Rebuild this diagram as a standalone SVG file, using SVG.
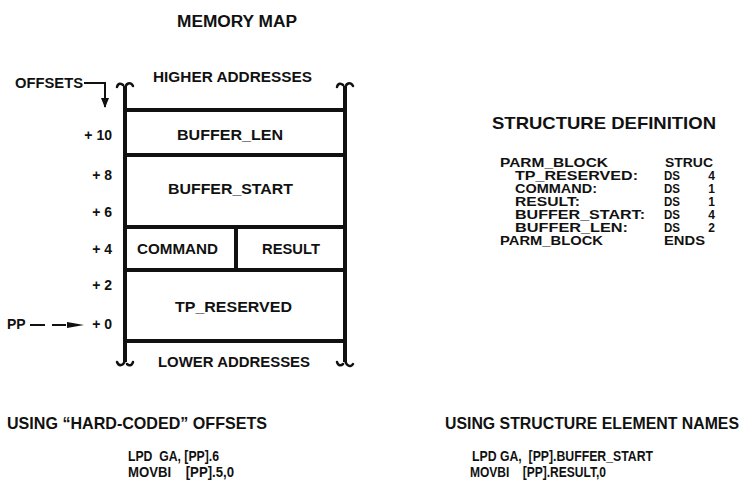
<svg xmlns="http://www.w3.org/2000/svg" width="751" height="483" viewBox="0 0 751 483">
<style>
text{font-family:"Liberation Sans",Arial,Helvetica,sans-serif;font-weight:bold;fill:#111}
.t{font-size:16px}
.m{font-size:14px}
.o{font-size:14px}
.s{font-size:12px}
.h{font-size:17px}
.hr{font-size:15.8px}
.c{font-size:14px}
.ln{stroke:#111;stroke-width:4;fill:none}
.cu{stroke:#111;stroke-width:2.5;fill:none;stroke-linecap:round}
.ar{stroke:#111;stroke-width:2;fill:none}
</style>
<defs>
<marker id="ah" markerWidth="10" markerHeight="8" refX="9" refY="4" orient="auto" markerUnits="userSpaceOnUse">
<path d="M0,0 L10,4 L0,8 Z" fill="#111"/>
</marker>
</defs>

<text class="t" x="177" y="27" textLength="120" lengthAdjust="spacingAndGlyphs">MEMORY MAP</text>

<g id="memory-map">
<line class="ln" x1="125" y1="86" x2="125" y2="362"/>
<line class="ln" x1="345" y1="86" x2="345" y2="362"/>
<path class="cu" d="M125,90 C125,83 131,81 133,86 M117,87 C118,83 121,83 123,85"/>
<path class="cu" d="M345,90 C345,83 351,81 353,86 M337,87 C338,83 341,83 343,85"/>
<path class="cu" d="M125,358 C125,366 119,367 117,362 M133,362 C132,366 129,366 127,364"/>
<path class="cu" d="M345,358 C345,366 351,368 353,364 M337,362 C338,366 341,366 343,364"/>
<line class="ln" x1="125" y1="110" x2="345" y2="110"/>
<line class="ln" x1="125" y1="155" x2="345" y2="155"/>
<line class="ln" x1="125" y1="227" x2="345" y2="227"/>
<line class="ln" x1="125" y1="270" x2="345" y2="270"/>
<line class="ln" x1="125" y1="341" x2="345" y2="341"/>
<line class="ln" x1="236" y1="227" x2="236" y2="270"/>
<text class="m" x="153" y="82" textLength="159" lengthAdjust="spacingAndGlyphs">HIGHER ADDRESSES</text>
<text class="m" x="158" y="367" textLength="152" lengthAdjust="spacingAndGlyphs">LOWER ADDRESSES</text>
</g>

<g id="buffer-len"><text class="m" x="177" y="140" textLength="106" lengthAdjust="spacingAndGlyphs">BUFFER_LEN</text></g>
<g id="buffer-start"><text class="m" x="168" y="194" textLength="125" lengthAdjust="spacingAndGlyphs">BUFFER_START</text></g>
<g id="command"><text class="m" x="137" y="254" textLength="81" lengthAdjust="spacingAndGlyphs">COMMAND</text></g>
<g id="result"><text class="m" x="262" y="254" textLength="58" lengthAdjust="spacingAndGlyphs">RESULT</text></g>
<g id="tp-reserved"><text class="m" x="175" y="312" textLength="117" lengthAdjust="spacingAndGlyphs">TP_RESERVED</text></g>

<g id="offsets">
<text class="o" x="15" y="88" textLength="68" lengthAdjust="spacingAndGlyphs">OFFSETS</text>
<text class="o" x="112" y="140" text-anchor="end">+ 10</text>
<text class="o" x="112" y="180" text-anchor="end">+ 8</text>
<text class="o" x="112" y="217" text-anchor="end">+ 6</text>
<text class="o" x="112" y="254" text-anchor="end">+ 4</text>
<text class="o" x="112" y="290" text-anchor="end">+ 2</text>
<text class="o" x="112" y="329" text-anchor="end">+ 0</text>
<text class="o" x="7" y="329">PP</text>
</g>

<g id="connectors">
<path class="ar" d="M84,83 H105 V107" marker-end="url(#ah)"/>
<path class="ar" d="M30,325 H45 M52,325 H66"/>
<path d="M67,322 L84,325 L67,328 Z" fill="#111"/>
</g>

<g id="structure-definition">
<text class="h" x="492" y="129" textLength="224" lengthAdjust="spacingAndGlyphs">STRUCTURE DEFINITION</text>
<text class="s" x="500" y="167" textLength="108" lengthAdjust="spacingAndGlyphs">PARM_BLOCK</text>
<text class="s" x="665" y="167" textLength="48" lengthAdjust="spacingAndGlyphs">STRUC</text>
<text class="s" x="515" y="180" textLength="123" lengthAdjust="spacingAndGlyphs">TP_RESERVED:</text>
<text class="s" x="515" y="193" textLength="82" lengthAdjust="spacingAndGlyphs">COMMAND:</text>
<text class="s" x="515" y="206" textLength="65" lengthAdjust="spacingAndGlyphs">RESULT:</text>
<text class="s" x="515" y="219" textLength="130" lengthAdjust="spacingAndGlyphs">BUFFER_START:</text>
<text class="s" x="515" y="232" textLength="113" lengthAdjust="spacingAndGlyphs">BUFFER_LEN:</text>
<text class="s" x="500" y="245" textLength="103" lengthAdjust="spacingAndGlyphs">PARM_BLOCK</text>
<text class="s" x="664" y="180" textLength="16" lengthAdjust="spacingAndGlyphs">DS</text>
<text class="s" x="664" y="193" textLength="16" lengthAdjust="spacingAndGlyphs">DS</text>
<text class="s" x="664" y="206" textLength="16" lengthAdjust="spacingAndGlyphs">DS</text>
<text class="s" x="664" y="219" textLength="16" lengthAdjust="spacingAndGlyphs">DS</text>
<text class="s" x="664" y="232" textLength="16" lengthAdjust="spacingAndGlyphs">DS</text>
<text class="s" x="715" y="180" text-anchor="end">4</text>
<text class="s" x="715" y="193" text-anchor="end">1</text>
<text class="s" x="715" y="206" text-anchor="end">1</text>
<text class="s" x="715" y="219" text-anchor="end">4</text>
<text class="s" x="715" y="232" text-anchor="end">2</text>
<text class="s" x="664" y="245" textLength="41" lengthAdjust="spacingAndGlyphs">ENDS</text>
</g>

<g id="hard-coded">
<text class="h" x="7" y="429" textLength="260" lengthAdjust="spacingAndGlyphs">USING “HARD-CODED” OFFSETS</text>
<text class="c" x="128" y="461" textLength="91" lengthAdjust="spacingAndGlyphs" xml:space="preserve">LPD  GA, [PP].6</text>
<text class="c" x="128" y="477" textLength="106" lengthAdjust="spacingAndGlyphs" xml:space="preserve">MOVBI    [PP].5,0</text>
</g>

<g id="element-names">
<text class="hr" x="445" y="429" textLength="294" lengthAdjust="spacingAndGlyphs">USING STRUCTURE ELEMENT NAMES</text>
<text class="c" x="472" y="461" textLength="181" lengthAdjust="spacingAndGlyphs" xml:space="preserve">LPD GA,  [PP].BUFFER_START</text>
<text class="c" x="470" y="477" textLength="136" lengthAdjust="spacingAndGlyphs" xml:space="preserve">MOVBI    [PP].RESULT,0</text>
</g>
</svg>
